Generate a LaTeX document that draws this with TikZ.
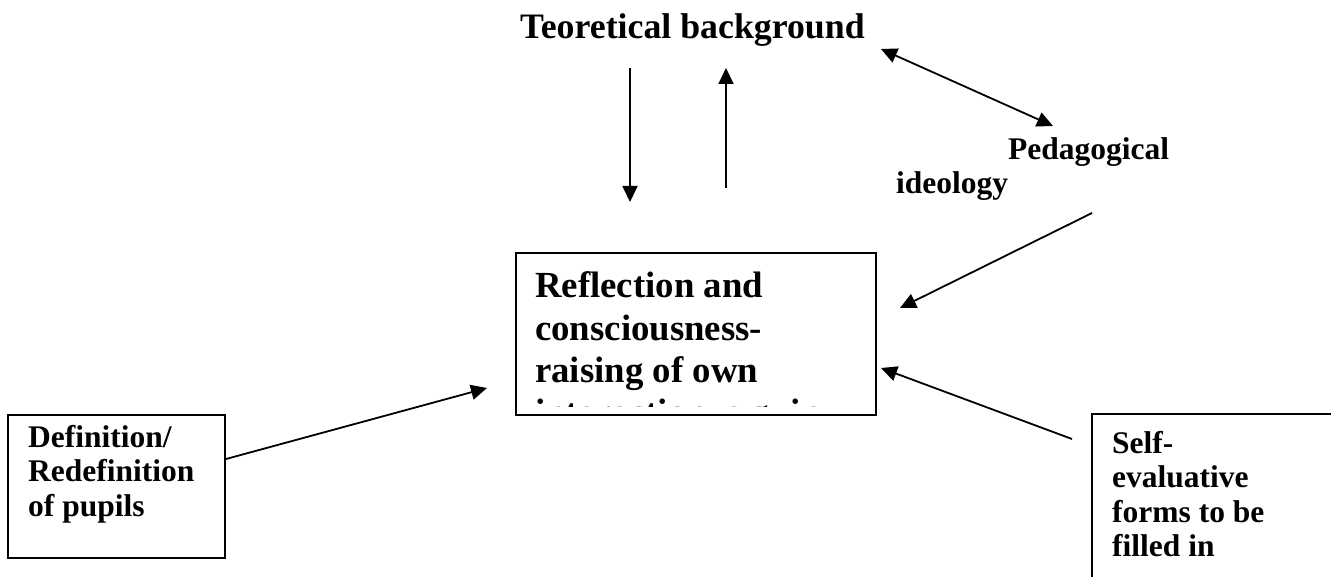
\documentclass[tikz,border=0pt]{standalone}
\usepackage{fontspec}
\setmainfont{Liberation Serif}
\usetikzlibrary{arrows.meta,calc}
\hyphenpenalty=10000
\exhyphenpenalty=10000
\begin{document}
\begin{tikzpicture}[x=1pt,y=-1pt,
  frame/.style={draw, line width=2pt, inner sep=0pt, anchor=north west},
  bigtext/.style={font=\fontsize{36.8}{42.3}\selectfont\bfseries, inner sep=0pt, anchor=base west},
  smalltext/.style={font=\fontsize{31.5}{34.6}\selectfont\bfseries, inner sep=0pt, anchor=base west},
  tip/.tip={Triangle[length=16pt,width=15pt]},
  conn/.style={line width=1.8pt, -tip},
  dconn/.style={line width=1.8pt, tip-tip},
]
\useasboundingbox (0,0) rectangle (1331,577);
\clip (0,0) rectangle (1331,577);

% heading and the ideology label
\node[bigtext, font=\fontsize{35.8}{40}\selectfont\bfseries] (title) at (520,39) {Teoretical background};
\node[smalltext, font=\fontsize{31.5}{33.5}\selectfont\bfseries] (ped) at (896,160)
  {\parbox[t]{320pt}{\raggedright\hspace*{112pt}Pedagogical\\ideology}};

% central box; its text runs past the lower edge and is cut off
\node[frame, minimum width=360pt, minimum height=162pt] (refl) at (515,252) {};
\begin{scope}
  \clip (refl.north west) rectangle ($(refl.south east)+(0,-10)$);
  \node[bigtext] (refltext) at (535,298)
    {\parbox[t]{330pt}{\raggedright Reflection and\\consciousness-\\raising of own\\interaction, e.g. in}};
\end{scope}

% side boxes
\node[frame, minimum width=217pt, minimum height=143pt] (defbox) at (7,414) {};
\node[smalltext] (deftext) at (28,447)
  {\parbox[t]{190pt}{\raggedright Definition/\\Redefinition\\of pupils}};

\node[frame, minimum width=300pt, minimum height=220pt] (selfbox) at (1091,413) {};
\node[smalltext] (selftext) at (1112,453)
  {\parbox[t]{200pt}{\raggedright Self-\\evaluative\\forms to be\\filled in}};

% arrow ends
\coordinate (downA) at (630,68);
\coordinate (downB) at (630,202);
\coordinate (upA) at (726,188);
\coordinate (upB) at (726,68);
\coordinate (dblA) at (881,49);
\coordinate (dblB) at (1053,126);
\coordinate (pedA) at (1092,213);
\coordinate (pedB) at (900,308);
\coordinate (selfA) at (1072,439);
\coordinate (selfB) at (881,368);
\coordinate (defA) at ($(defbox.north east)+(0,45)$);
\coordinate (defB) at (487,388);

% connectors
\draw[conn] (downA) -- (downB);
\draw[conn] (upA) -- (upB);
\draw[dconn] (dblA) -- (dblB);
\draw[conn] (pedA) -- (pedB);
\draw[conn] (selfA) -- (selfB);
\draw[conn] (defA) -- (defB);
\end{tikzpicture}
\end{document}
